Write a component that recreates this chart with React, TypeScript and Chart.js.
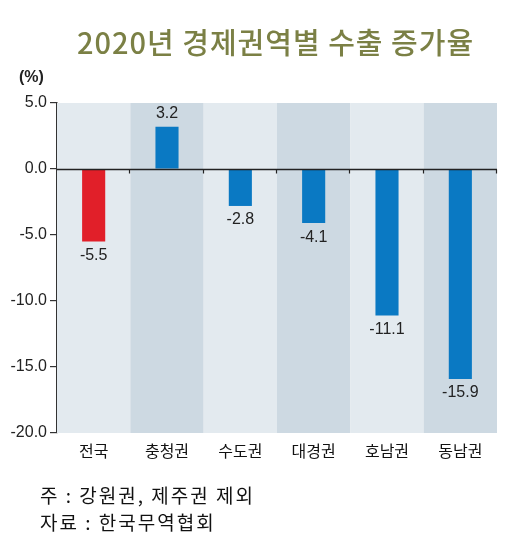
import React, { useEffect, useRef } from "react";
import { Chart, registerables } from "chart.js";

Chart.register(...registerables);

const titleText = "2020년 경제권역별 수출 증가율";
const unitLabel = "(%)";
const categories = ["전국", "충청권", "수도권", "대경권", "호남권", "동남권"];
const growthRates = [-5.5, 3.2, -2.8, -4.1, -11.1, -15.9];
const barColors = ["#e11f29", "#0a79c3", "#0a79c3", "#0a79c3", "#0a79c3", "#0a79c3"];
const bandColors = ["#e3eaef", "#cdd9e2"];
const yMin = -20;
const yMax = 5;
const yStep = 5;
const footnotes = ["주 : 강원권, 제주권 제외", "자료 : 한국무역협회"];

const NUM_FONT = "'Liberation Sans', Arial, sans-serif";
const KR_FONT = "'Noto Sans CJK KR', 'Noto Sans', sans-serif";

const fmt = (v: number) => (v < 0 ? "-" + Math.abs(v).toFixed(1) : v.toFixed(1));

const bandsPlugin = {
  id: "bands",
  beforeDatasetsDraw(chart: any) {
    const { ctx, chartArea, scales } = chart;
    const x = scales.x;
    const n = categories.length;
    const w = chartArea.width / n;
    ctx.save();
    categories.forEach((_, i) => {
      const cx = x.getPixelForValue(i);
      ctx.fillStyle = bandColors[i % 2];
      ctx.fillRect(cx - w / 2, chartArea.top, w, chartArea.bottom - chartArea.top);
    });
    ctx.restore();
  },
  afterDatasetsDraw(chart: any) {
    const { ctx, chartArea, scales } = chart;
    const y0 = Math.round(scales.y.getPixelForValue(0)) + 0.5;
    const n = categories.length;
    const w = chartArea.width / n;
    ctx.save();
    ctx.strokeStyle = "#222";
    ctx.lineWidth = 1.5;
    ctx.beginPath();
    ctx.moveTo(chartArea.left, y0);
    ctx.lineTo(chartArea.right, y0);
    ctx.stroke();
    ctx.lineWidth = 1.2;
    for (let i = 1; i <= n; i++) {
      const bx = Math.round(chartArea.left + w * i) - 0.5;
      ctx.beginPath();
      ctx.moveTo(bx, y0);
      ctx.lineTo(bx, y0 + 4);
      ctx.stroke();
    }
    // value labels
    const meta = chart.getDatasetMeta(0);
    ctx.fillStyle = "#222";
    ctx.font = `16px ${NUM_FONT}`;
    ctx.textAlign = "center";
    meta.data.forEach((el: any, i: number) => {
      const v = growthRates[i];
      if (v < 0) {
        ctx.textBaseline = "top";
        ctx.fillText(fmt(v), el.x, el.y + 6);
      } else {
        ctx.textBaseline = "bottom";
        ctx.fillText(fmt(v), el.x, el.y - 5);
      }
    });
    ctx.restore();
  },
};

export default function App() {
  const ref = useRef<HTMLCanvasElement>(null);
  useEffect(() => {
    if (!ref.current) return;
    const chart = new Chart(ref.current, {
      type: "bar",
      data: {
        labels: categories,
        datasets: [
          {
            data: growthRates,
            backgroundColor: barColors,
            barPercentage: 0.315,
            categoryPercentage: 1,
          },
        ],
      },
      options: {
        animation: false,
        responsive: false,
        devicePixelRatio: 1,
        layout: { padding: { top: 103, right: 29, left: 0, bottom: 0 } },
        plugins: { legend: { display: false }, tooltip: { enabled: false }, title: { display: false } },
        scales: {
          x: {
            grid: { display: false, drawTicks: false },
            border: { display: false },
            ticks: { color: "#111", font: { family: KR_FONT, size: 16 }, padding: 8 },
            afterFit(scale: any) {
              scale.height = 106;
            },
          },
          y: {
            min: yMin,
            max: yMax,
            ticks: {
              stepSize: yStep,
              color: "#222",
              font: { family: NUM_FONT, size: 16 },
              padding: 3,
              callback: (v: any) => fmt(Number(v)),
            },
            grid: { drawOnChartArea: false, drawTicks: true, tickLength: 7, color: "#333", lineWidth: 1.2 },
            border: { display: true, color: "#333", width: 1.5 },
            afterFit(scale: any) {
              scale.width = 57;
            },
          },
        },
      },
      plugins: [bandsPlugin],
    } as any);
    return () => chart.destroy();
  }, []);

  return (
    <div style={{ position: "fixed", left: 0, top: 0, width: 526, height: 539, background: "#fff" }}>
      <canvas ref={ref} width={526} height={539} style={{ position: "absolute", left: 0, top: 0 }} />
      <div
        style={{
          position: "absolute",
          left: 0,
          width: 551,
          top: 23,
          textAlign: "center",
          fontFamily: KR_FONT,
          fontSize: 29,
          fontWeight: 500,
          letterSpacing: 1,
          color: "#7b8045",
          lineHeight: "36px",
          whiteSpace: "nowrap",
        }}
      >
        {titleText}
      </div>
      <div
        style={{
          position: "absolute",
          left: 19,
          top: 67,
          fontFamily: NUM_FONT,
          fontSize: 16,
          fontWeight: 700,
          color: "#222",
          lineHeight: "20px",
        }}
      >
        {unitLabel}
      </div>
      {footnotes.map((t, i) => (
        <div
          key={i}
          style={{
            position: "absolute",
            left: 40,
            top: 482 + i * 27,
            fontFamily: KR_FONT,
            fontSize: 19,
            letterSpacing: 2,
            color: "#111",
            lineHeight: "26px",
            whiteSpace: "nowrap",
          }}
        >
          {t}
        </div>
      ))}
    </div>
  );
}
